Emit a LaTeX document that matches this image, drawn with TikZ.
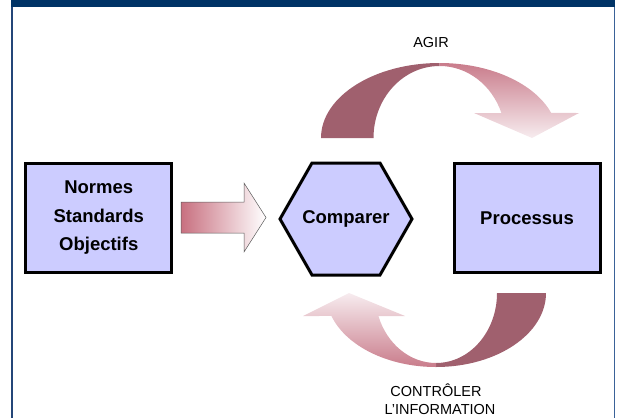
\documentclass[tikz,border=0pt]{standalone}
\usepackage{fontspec}
\setmainfont{Liberation Sans}

\definecolor{boxfill}{RGB}{204,204,255}
\definecolor{navy}{RGB}{0,51,102}
\definecolor{frameleft}{RGB}{36,70,120}
\definecolor{frameright}{RGB}{58,98,152}
\definecolor{mauve}{RGB}{160,96,110}
\definecolor{rose}{RGB}{201,124,139}
\definecolor{blush}{RGB}{247,236,239}
\definecolor{arrowrose}{RGB}{200,112,128}
\definecolor{arrowedge}{RGB}{90,90,90}

\begin{document}
\begin{tikzpicture}[x=1pt,y=-1pt,
  stagefont/.style={font=\bfseries\fontsize{18.5}{28.5}\selectfont, align=center},
  stagebox/.style={stagefont, draw=black, line width=3pt, fill=boxfill, inner sep=0pt},
  caption/.style={font=\fontsize{14.5}{18}\selectfont, inner sep=0pt}]
\useasboundingbox (0,0) rectangle (618,418);

% page frame: title band and side rules
\fill[navy] (11,0) rectangle (615,7.3);
\draw[frameleft, line width=1.5pt] (12,7) -- (12,418);
\draw[frameright, line width=1.6pt] (614.3,7) -- (614.3,418);

% hexagonal outline of the comparison stage
\draw[black, line width=3pt, fill=boxfill, line join=miter]
  (280,219) -- (312,163) -- (380,163) -- (412,219) -- (380,275) -- (312,275) -- cycle;

% the three stages
\node[stagebox, minimum width=146, minimum height=109] (goals) at (98.75,218) {Normes\\Standards\\Objectifs};
\node[stagefont, inner sep=0pt] (compare) at (346,219) {Comparer};
\node[stagebox, minimum width=146, minimum height=109] (process) at (527,218) {Processus};

% block arrow feeding the comparison
\draw[arrowedge, line width=0.5pt, left color=arrowrose, right color=white]
  (181,202) -- (244,202) -- (244,183) -- (266,217.5) -- (244,252) -- (244,233) -- (181,233) -- cycle;

% upper curved arrow (act): solid rising half, shaded falling half with head
\fill[mauve] (321,138) arc[start angle=180, end angle=270, x radius=118.5, y radius=75]
  -- ++(0,3) arc[start angle=270, end angle=180, x radius=66, y radius=72] -- cycle;
\shade[top color=rose, bottom color=blush]
  (439.5,63) arc[start angle=270, end angle=340.5, x radius=118.5, y radius=75]
  -- (579,113) -- (532,138) -- (474,113) -- (501.4,113)
  arc[start angle=339.7, end angle=270, x radius=66, y radius=72] -- cycle;

% lower curved arrow (control): solid descending half, shaded rising half with head
\fill[mauve] (546,293) arc[start angle=0, end angle=90, x radius=110, y radius=74]
  -- ++(0,-4) arc[start angle=90, end angle=0, x radius=61, y radius=70] -- cycle;
\shade[top color=blush, bottom color=rose]
  (436,367) arc[start angle=90, end angle=161.9, x radius=110, y radius=74]
  -- (303,316) -- (349,293) -- (405,316) -- (378.4,316)
  arc[start angle=160.8, end angle=90, x radius=61, y radius=70] -- cycle;

% labels of the loop
\node[caption] (act) at (431,43) {AGIR};
\node[caption, anchor=base] (check) at (436,396) {CONTRÔLER};
\node[caption, anchor=base] (info) at (440,414) {L’INFORMATION};
\end{tikzpicture}
\end{document}
